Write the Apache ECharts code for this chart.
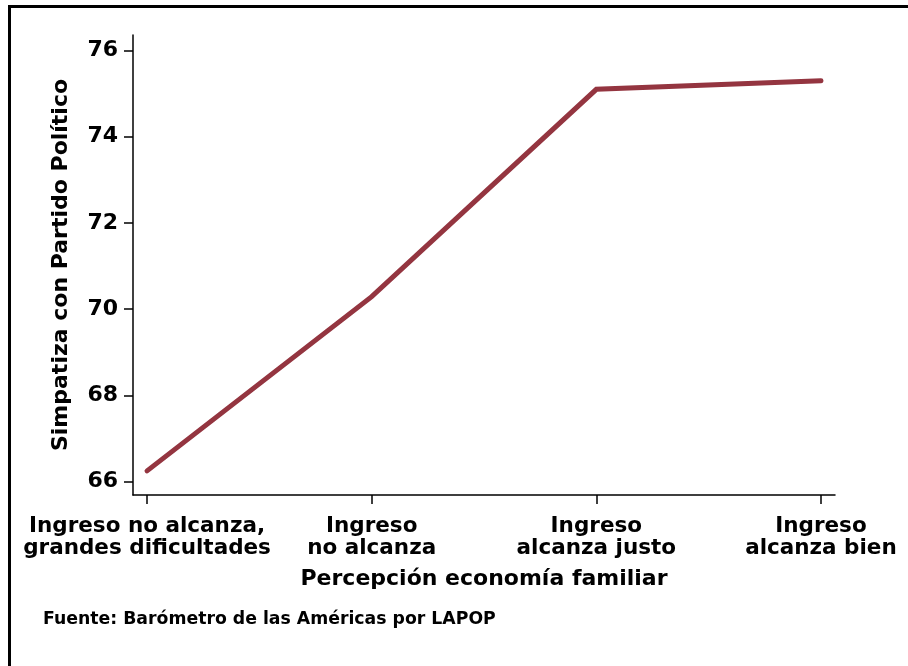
<!DOCTYPE html>
<html><head><meta charset="utf-8">
<script src="https://cdn.jsdelivr.net/npm/echarts@6/dist/echarts.min.js"></script>
<style>html,body{margin:0;padding:0;background:#fff}#c{width:908px;height:666px}</style>
</head><body><div id="c"></div>
<script>
const categories = ["Ingreso no alcanza,\ngrandes dificultades", "Ingreso\nno alcanza", "Ingreso\nalcanza justo", "Ingreso\nalcanza bien"];
const values = [66.25, 70.29, 75.10, 75.30];
const yTicks = [66, 68, 70, 72, 74, 76];
const yTitle = "Simpatiza con Partido Político";
const xTitle = "Percepción economía familiar";
const source = "Fuente: Barómetro de las Américas por LAPOP";

const chart = echarts.init(document.getElementById('c'), null, {renderer: 'canvas'});
const F = '"DejaVu Sans", Arial, sans-serif';
chart.setOption({
  animation: false,
  backgroundColor: '#fff',
  grid: {left: 133, right: 73, top: 35, bottom: 171, containLabel: false},
  xAxis: {
    type: 'value', min: -0.0625, max: 3.0625,
    axisLine: {show: true, onZero: false, lineStyle: {color: '#000', width: 1.5}},
    axisTick: {show: true, customValues: [0,1,2,3], length: 9, lineStyle: {color: '#000', width: 1.5}},
    axisLabel: {show: true, customValues: [0,1,2,3], margin: 20, color: '#000',
      fontFamily: F, fontWeight: 'bold', fontSize: 21.5, lineHeight: 22,
      formatter: v => categories[Math.round(v)]},
    splitLine: {show: false},
    name: xTitle, nameLocation: 'middle', nameGap: 73,
    nameTextStyle: {color: '#000', fontFamily: F, fontWeight: 'bold', fontSize: 22}
  },
  yAxis: {
    type: 'value', min: 65.69, max: 76.36,
    axisLine: {show: true, onZero: false, lineStyle: {color: '#000', width: 1.5}},
    axisTick: {show: true, customValues: yTicks, length: 9, lineStyle: {color: '#000', width: 1.5}},
    axisLabel: {show: true, customValues: yTicks, margin: 15, color: '#000',
      fontFamily: F, fontWeight: 'bold', fontSize: 22},
    splitLine: {show: false},
    name: yTitle, nameLocation: 'middle', nameGap: 61, nameRotate: 90,
    nameTextStyle: {color: '#000', fontFamily: F, fontWeight: 'bold', fontSize: 22}
  },
  series: [{
    type: 'line', data: values.map((v, i) => [i, v]),
    symbol: 'none', lineStyle: {color: '#943540', width: 5, cap: 'round', join: 'miter'}
  }],
  graphic: [
    {type: 'rect', shape: {x: 9.5, y: 6.5, width: 1000, height: 1000}, style: {fill: 'none', stroke: '#000', lineWidth: 3}},
    {type: 'text', left: 43, top: 611, style: {text: source, fill: '#000',
      font: 'bold 17.3px "DejaVu Sans", sans-serif'}}
  ]
});
</script></body></html>
